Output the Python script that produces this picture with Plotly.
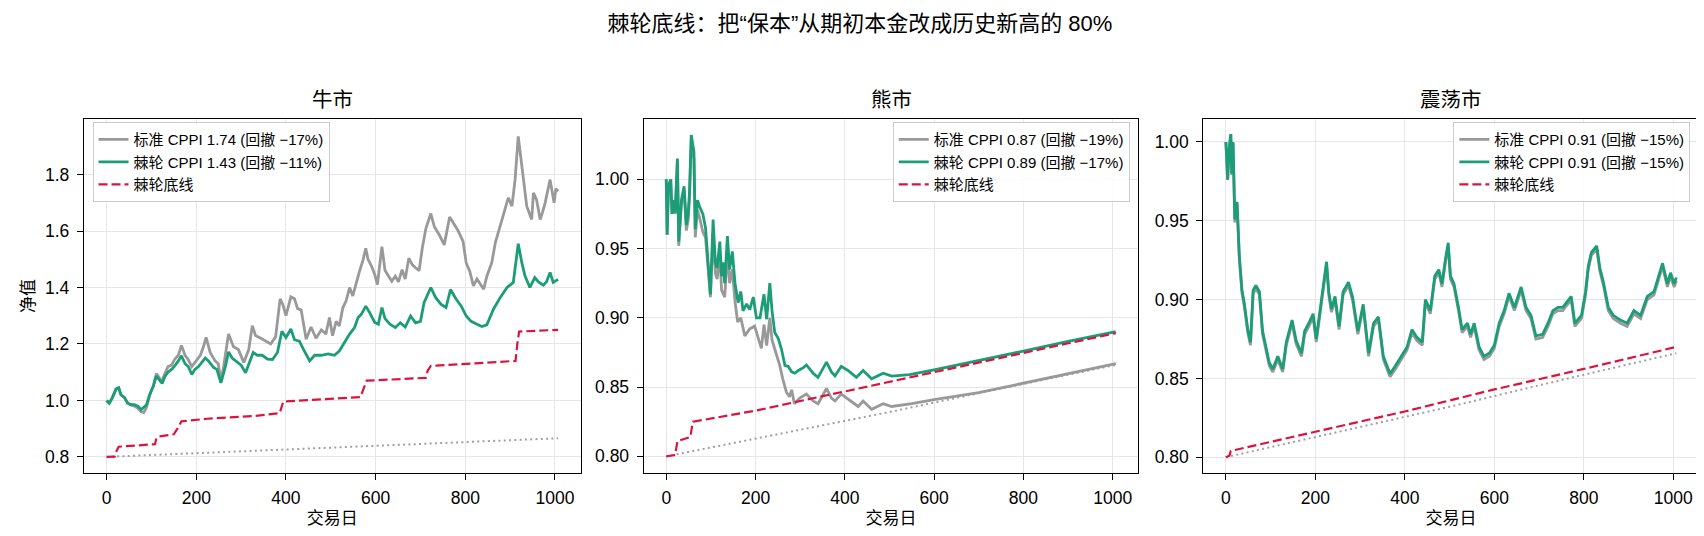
import plotly.graph_objects as go

# ---- 牛市 ----
bull_std_days = [0, 6, 13, 21, 27, 32, 40, 47, 55, 62, 70, 77, 83, 89, 96, 104, 111, 116, 122, 130, 137, 145,
                 152, 160, 167, 175, 182, 190, 197, 209, 216, 222, 231, 242, 249, 255, 260, 265, 272, 283,
                 294, 306, 317, 325, 332, 344, 355, 366, 377, 387, 393, 400, 411, 419, 426, 434, 445, 456,
                 467, 479, 489, 497, 504, 512, 519, 527, 534, 542, 549, 557, 564, 572, 578, 583, 591, 598,
                 604, 614, 621, 629, 636, 644, 651, 659, 666, 674, 682, 689, 697, 704, 712, 723, 731, 742,
                 753, 765, 772, 783, 795, 802, 810, 818, 826, 837, 841, 848, 859, 867, 878, 885, 896, 904,
                 911, 918, 924, 930, 937, 948, 952, 959, 967, 972, 978, 989, 993, 998, 1002, 1007]
bull_std = [1.000, 0.990, 1.010, 1.040, 1.045, 1.020, 1.010, 0.990, 0.983, 0.980, 0.972, 0.960, 0.957, 0.975,
            1.018, 1.050, 1.095, 1.085, 1.065, 1.095, 1.120, 1.125, 1.146, 1.160, 1.195, 1.160, 1.145, 1.120,
            1.135, 1.160, 1.190, 1.223, 1.170, 1.140, 1.130, 1.068, 1.110, 1.160, 1.235, 1.190, 1.180, 1.134,
            1.180, 1.265, 1.230, 1.220, 1.210, 1.200, 1.225, 1.360, 1.340, 1.300, 1.367, 1.360, 1.325, 1.320,
            1.217, 1.260, 1.220, 1.250, 1.235, 1.294, 1.229, 1.280, 1.264, 1.329, 1.352, 1.400, 1.370, 1.422,
            1.457, 1.498, 1.539, 1.500, 1.475, 1.446, 1.410, 1.545, 1.460, 1.440, 1.422, 1.440, 1.420, 1.463,
            1.430, 1.504, 1.480, 1.470, 1.460, 1.539, 1.609, 1.662, 1.615, 1.586, 1.551, 1.650, 1.630, 1.604,
            1.563, 1.487, 1.457, 1.406, 1.430, 1.406, 1.394, 1.440, 1.488, 1.559, 1.618, 1.659, 1.718, 1.688,
            1.782, 1.935, 1.853, 1.770, 1.688, 1.641, 1.735, 1.710, 1.641, 1.665, 1.700, 1.782, 1.747, 1.700,
            1.750, 1.741]

bull_rat_days = [0, 6, 13, 21, 27, 32, 40, 47, 55, 62, 70, 77, 89, 96, 104, 111, 119, 124, 130, 137, 145,
                 152, 160, 167, 175, 182, 190, 197, 205, 212, 220, 227, 239, 246, 255, 265, 272, 280, 291,
                 300, 310, 317, 327, 336, 347, 359, 370, 381, 391, 400, 411, 419, 430, 441, 453, 464, 479,
                 494, 508, 519, 531, 542, 553, 561, 568, 578, 587, 598, 606, 614, 621, 632, 644, 655, 666,
                 678, 689, 700, 708, 723, 734, 746, 757, 767, 779, 791, 802, 813, 826, 837, 848, 863, 878,
                 893, 907, 918, 926, 933, 944, 955, 963, 974, 981, 989, 996, 1007]
bull_rat = [1.000, 0.990, 1.010, 1.040, 1.045, 1.020, 1.010, 0.990, 0.985, 0.985, 0.980, 0.967, 0.985, 1.020,
            1.050, 1.086, 1.070, 1.060, 1.085, 1.100, 1.110, 1.122, 1.140, 1.158, 1.130, 1.120, 1.092, 1.110,
            1.120, 1.134, 1.150, 1.140, 1.116, 1.110, 1.062, 1.120, 1.172, 1.150, 1.135, 1.125, 1.098, 1.130,
            1.170, 1.160, 1.160, 1.146, 1.145, 1.170, 1.245, 1.223, 1.253, 1.215, 1.210, 1.175, 1.140, 1.160,
            1.160, 1.165, 1.160, 1.175, 1.206, 1.235, 1.258, 1.294, 1.305, 1.334, 1.310, 1.276, 1.270, 1.329,
            1.290, 1.270, 1.258, 1.275, 1.260, 1.299, 1.275, 1.280, 1.346, 1.400, 1.364, 1.340, 1.329, 1.393,
            1.360, 1.334, 1.299, 1.280, 1.270, 1.262, 1.268, 1.324, 1.365, 1.400, 1.418, 1.555, 1.488, 1.441,
            1.400, 1.435, 1.420, 1.408, 1.420, 1.453, 1.418, 1.429]

bull_floor_days = [0, 18, 22, 27, 108, 111, 116, 150, 158, 167, 224, 330, 386, 390, 394, 566, 572, 580,
                   712, 716, 723, 912, 916, 920, 1007]
bull_floor = [0.800, 0.801, 0.820, 0.836, 0.845, 0.866, 0.872, 0.880, 0.900, 0.926, 0.935, 0.945, 0.955,
              0.980, 0.996, 1.012, 1.040, 1.070, 1.080, 1.105, 1.122, 1.140, 1.200, 1.244, 1.250]

# ---- 熊市 ----
bear_rat_days = [0, 2, 5, 10, 13, 16, 20, 25, 28, 34, 40, 45, 49, 52, 56, 62, 65, 70, 75, 82, 88, 94, 99,
                 105, 110, 114, 120, 124, 127, 131, 137, 142, 148, 154, 161, 167, 172, 180, 187, 195, 202,
                 210, 219, 225, 232, 237, 243, 251, 258, 266, 273, 281, 288, 296, 307, 314, 329, 340, 359,
                 370, 378, 392, 407, 426, 441, 460, 486, 505, 545, 600, 700, 800, 900, 1007]
bear_rat = [1.000, 0.960, 0.995, 1.000, 0.975, 0.985, 0.976, 1.015, 0.955, 0.985, 0.995, 0.967, 0.975, 0.990,
            1.032, 1.020, 0.964, 0.985, 0.980, 0.975, 0.965, 0.940, 0.917, 0.971, 0.940, 0.936, 0.955, 0.930,
            0.940, 0.925, 0.959, 0.935, 0.948, 0.925, 0.911, 0.919, 0.905, 0.910, 0.906, 0.915, 0.900, 0.900,
            0.917, 0.899, 0.925, 0.905, 0.8895, 0.885, 0.8775, 0.8656, 0.865, 0.861, 0.860, 0.862, 0.864,
            0.866, 0.860, 0.857, 0.868, 0.861, 0.858, 0.865, 0.862, 0.857, 0.862, 0.856, 0.860, 0.858, 0.859,
            0.8625, 0.869, 0.876, 0.883, 0.890]

bear_std_days = [0, 2, 5, 10, 13, 16, 20, 25, 28, 34, 40, 45, 49, 52, 56, 62, 65, 70, 75, 82, 88, 94, 99,
                 105, 110, 114, 120, 124, 131, 137, 142, 148, 154, 160, 167, 176, 187, 198, 206, 213, 219,
                 225, 232, 237, 243, 254, 261, 269, 276, 281, 287, 299, 314, 329, 340, 359, 370, 378, 392,
                 410, 430, 441, 460, 486, 505, 550, 600, 700, 800, 900, 1007]
bear_std = [1.000, 0.960, 0.995, 1.000, 0.975, 0.984, 0.975, 1.013, 0.952, 0.982, 0.992, 0.963, 0.970, 0.985,
            1.028, 1.015, 0.958, 0.978, 0.972, 0.962, 0.958, 0.935, 0.915, 0.962, 0.932, 0.928, 0.946, 0.920,
            0.915, 0.948, 0.925, 0.935, 0.912, 0.897, 0.900, 0.887, 0.892, 0.894, 0.885, 0.878, 0.895, 0.880,
            0.900, 0.884, 0.8775, 0.866, 0.856, 0.8465, 0.843, 0.848, 0.838, 0.842, 0.845, 0.840, 0.838, 0.849,
            0.842, 0.840, 0.845, 0.841, 0.836, 0.840, 0.834, 0.838, 0.836, 0.838, 0.841, 0.846, 0.853, 0.860,
            0.867]

bear_floor_days = [0, 20, 25, 54, 58, 60, 200, 400, 600, 800, 1007]
bear_floor = [0.800, 0.801, 0.811, 0.814, 0.822, 0.825, 0.833, 0.847, 0.861, 0.875, 0.889]

# ---- 震荡市 ----
chop_days = [0, 4, 7, 11, 13, 16, 20, 25, 30, 36, 41, 49, 55, 61, 67, 75, 82, 90, 97, 105, 116, 127, 135,
             148, 157, 169, 176, 187, 195, 202, 214, 225, 230, 236, 244, 253, 262, 274, 283, 295, 307, 319,
             330, 341, 352, 367, 379, 394, 405, 416, 427, 439, 446, 457, 467, 476, 483, 491, 497, 502, 510,
             520, 528, 540, 547, 555, 566, 577, 589, 600, 611, 622, 633, 645, 660, 671, 682, 693, 708, 720,
             731, 742, 753, 772, 780, 795, 804, 810, 817, 829, 836, 844, 855, 866, 882, 897, 912, 927, 942,
             957, 968, 976, 987, 994, 1002, 1007]
chop_rat = [1.000, 0.976, 0.995, 1.005, 0.980, 1.000, 0.951, 0.962, 0.928, 0.906, 0.898, 0.881, 0.873, 0.906,
            0.909, 0.905, 0.880, 0.870, 0.860, 0.856, 0.864, 0.856, 0.873, 0.887, 0.874, 0.866, 0.880, 0.886,
            0.891, 0.875, 0.900, 0.924, 0.905, 0.894, 0.902, 0.883, 0.905, 0.911, 0.902, 0.880, 0.897, 0.866,
            0.885, 0.889, 0.864, 0.853, 0.858, 0.865, 0.870, 0.881, 0.876, 0.873, 0.900, 0.893, 0.915, 0.919,
            0.910, 0.926, 0.936, 0.915, 0.910, 0.895, 0.881, 0.885, 0.878, 0.885, 0.870, 0.864, 0.866, 0.871,
            0.885, 0.893, 0.904, 0.895, 0.908, 0.895, 0.890, 0.877, 0.878, 0.885, 0.893, 0.895, 0.895, 0.902,
            0.885, 0.890, 0.905, 0.921, 0.930, 0.934, 0.920, 0.911, 0.895, 0.890, 0.887, 0.885, 0.893, 0.890,
            0.902, 0.905, 0.915, 0.923, 0.910, 0.917, 0.910, 0.914]
chop_std = [1.000, 0.976, 0.995, 1.005, 0.979, 0.999, 0.949, 0.960, 0.926, 0.904, 0.896, 0.879, 0.871, 0.904,
            0.907, 0.903, 0.878, 0.868, 0.858, 0.854, 0.862, 0.854, 0.871, 0.885, 0.872, 0.864, 0.878, 0.884,
            0.889, 0.873, 0.898, 0.922, 0.903, 0.892, 0.900, 0.881, 0.903, 0.909, 0.900, 0.878, 0.895, 0.864,
            0.883, 0.887, 0.862, 0.851, 0.856, 0.863, 0.868, 0.879, 0.874, 0.871, 0.898, 0.891, 0.913, 0.917,
            0.908, 0.924, 0.934, 0.913, 0.908, 0.893, 0.879, 0.883, 0.876, 0.883, 0.868, 0.862, 0.864, 0.869,
            0.883, 0.891, 0.902, 0.893, 0.906, 0.893, 0.888, 0.875, 0.876, 0.883, 0.891, 0.893, 0.893, 0.900,
            0.883, 0.888, 0.903, 0.919, 0.928, 0.932, 0.918, 0.909, 0.893, 0.888, 0.885, 0.883, 0.891, 0.888,
            0.900, 0.903, 0.913, 0.921, 0.908, 0.915, 0.908, 0.912]

chop_floor_days = [0, 8, 11, 200, 400, 600, 800, 1007]
chop_floor = [0.800, 0.801, 0.804, 0.816, 0.829, 0.843, 0.856, 0.870]

# 原始保本线（期初本金的 80%，按无风险利率增长）
base_days = [0, 250, 500, 750, 1007]
base_floor = [0.800, 0.816, 0.832, 0.849, 0.866]

panels = [
    ("牛市", bull_std_days, bull_std, bull_rat_days, bull_rat, bull_floor_days, bull_floor,
     "标准 CPPI 1.74 (回撤 −17%)", "棘轮 CPPI 1.43 (回撤 −11%)"),
    ("熊市", bear_std_days, bear_std, bear_rat_days, bear_rat, bear_floor_days, bear_floor,
     "标准 CPPI 0.87 (回撤 −19%)", "棘轮 CPPI 0.89 (回撤 −17%)"),
    ("震荡市", chop_days, chop_std, chop_days, chop_rat, chop_floor_days, chop_floor,
     "标准 CPPI 0.91 (回撤 −15%)", "棘轮 CPPI 0.91 (回撤 −15%)"),
]

GRAY = "#999999"
GREEN = "#1b9e77"
RED = "#dc143c"
FONT = "Liberation Sans, Noto Sans CJK SC, sans-serif"

x_domains = [[0.0446, 0.3361], [0.3731, 0.6633], [0.7015, 0.9923]]
y_domain = [0.1325, 0.793]
y_ranges = [[0.743, 1.997], [0.788, 1.0436], [0.790, 1.0146]]
y_ticks = [[0.8, 1.0, 1.2, 1.4, 1.6, 1.8],
           [0.80, 0.85, 0.90, 0.95, 1.00],
           [0.80, 0.85, 0.90, 0.95, 1.00]]
y_fmt = [".1f", ".2f", ".2f"]

fig = go.Figure()
layout = {}
annotations = []
for i, (name, sd, sv, rd, rv, fd, fv, lab_std, lab_rat) in enumerate(panels):
    n = "" if i == 0 else str(i + 1)
    xa, ya, lg = "x" + n, "y" + n, "legend" + n
    fig.add_trace(go.Scatter(x=base_days, y=base_floor, mode="lines", xaxis=xa, yaxis=ya,
                             line=dict(color="#a0a0a0", width=2, dash="2px,3.3px"),
                             showlegend=False, hoverinfo="skip"))
    fig.add_trace(go.Scatter(x=sd, y=sv, mode="lines", name=lab_std, xaxis=xa, yaxis=ya, legend=lg,
                             line=dict(color=GRAY, width=2.8)))
    fig.add_trace(go.Scatter(x=rd, y=rv, mode="lines", name=lab_rat, xaxis=xa, yaxis=ya, legend=lg,
                             line=dict(color=GREEN, width=2.8)))
    fig.add_trace(go.Scatter(x=fd, y=fv, mode="lines", name="棘轮底线", xaxis=xa, yaxis=ya, legend=lg,
                             line=dict(color=RED, width=2.2, dash="9px,4px")))

    layout["xaxis" + n] = dict(domain=x_domains[i], anchor=ya, range=[-50.35, 1057.35],
                               tickvals=[0, 200, 400, 600, 800, 1000],
                               showline=True, mirror=True, linecolor="black", linewidth=1.3,
                               ticks="outside", ticklen=6, tickcolor="black", ticklabelstandoff=3,
                               showgrid=True, gridcolor="#e6e6e6", zeroline=False,
                               title=dict(text="交易日", font=dict(size=17), standoff=4),
                               tickfont=dict(size=17.5))
    layout["yaxis" + n] = dict(domain=y_domain, anchor=xa, range=y_ranges[i], tickvals=y_ticks[i],
                               tickformat=y_fmt[i],
                               showline=True, mirror=True, linecolor="black", linewidth=1.3,
                               ticks="outside", ticklen=6, tickcolor="black", ticklabelstandoff=4,
                               showgrid=True, gridcolor="#e6e6e6", zeroline=False,
                               tickfont=dict(size=17.5))
    if i == 0:
        layout["yaxis"]["title"] = dict(text="净值", font=dict(size=17), standoff=6)
        layout[lg] = dict(x=x_domains[i][0] + 0.005, xanchor="left")
    else:
        layout[lg] = dict(x=x_domains[i][1] - 0.005, xanchor="right")
    layout[lg].update(y=y_domain[1] - 0.006, yanchor="top", xref="paper", yref="paper",
                      bgcolor="rgba(255,255,255,0.85)", bordercolor="#cccccc", borderwidth=1,
                      font=dict(size=15), tracegroupgap=0, itemwidth=30)
    annotations.append(dict(text=name, x=sum(x_domains[i]) / 2, y=y_domain[1] + 0.012,
                            xref="paper", yref="paper", xanchor="center", yanchor="bottom",
                            showarrow=False, font=dict(size=20.5)))

fig.update_layout(
    width=1704, height=536,
    margin=dict(l=0, r=0, t=0, b=0),
    paper_bgcolor="white", plot_bgcolor="white",
    font=dict(family=FONT, color="black"),
    title=dict(text="棘轮底线：把“保本”从期初本金改成历史新高的 80%", x=0.5, xanchor="center",
               y=0.972, yanchor="middle", font=dict(size=22)),
    annotations=annotations,
    **layout,
)

fig.write_html("out.html")
